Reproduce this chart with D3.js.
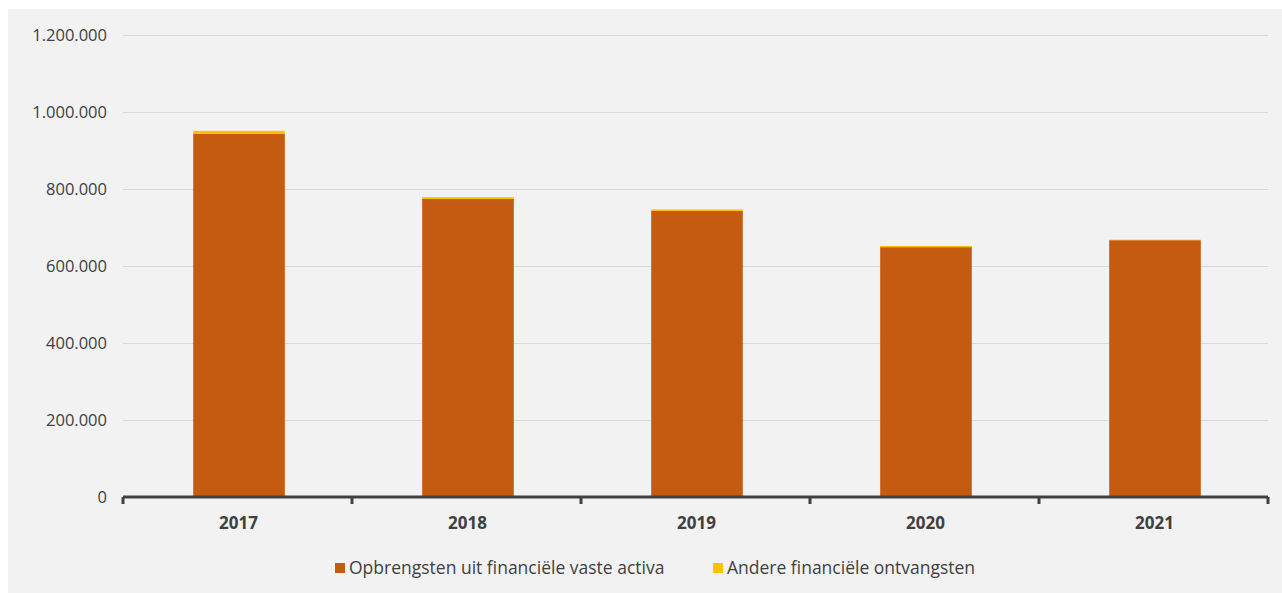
<!DOCTYPE html>
<html lang="nl">
<head>
	<meta charset="utf-8"/>
	<title>Financiële ontvangsten</title>
	<script src="https://d3js.org/d3.v7.min.js"></script>
	<style>
	  body { margin: 0; background: #fff; }
	  text { font-family: "Open Sans", "Liberation Sans", sans-serif; }
	  .grid line { stroke: #d9d9d9; stroke-width: 1px; }
	  .grid .domain { display: none; }
	  .yaxis .domain, .yaxis line { display: none; }
	</style>
</head>
<body>
<svg id="chart" width="1282" height="593"></svg>
<script>
// data
var years = ["2017", "2018", "2019", "2020", "2021"];
var seriesNames = ["Opbrengsten uit financiële vaste activa", "Andere financiële ontvangsten"];
var vasteActiva = [943000, 774000, 743000, 649000, 667000];
var andere = [8000, 5000, 4000, 3000, 1500];
var yTicks = [0, 200000, 400000, 600000, 800000, 1000000, 1200000];
var colors = ["#c55a11", "#ffc000"];

var svg = d3.select("#chart");
var margin = {top: 35, left: 123, right: 14, bottom: 96};
var width = 1282 - margin.left - margin.right,
	height = 593 - margin.top - margin.bottom;

// panel background
svg.append("rect")
	.attr("x", 8).attr("y", 9)
	.attr("width", 1282 - 8).attr("height", 593 - 9)
	.attr("fill", "#f2f2f2");

var g = svg.append("g").attr("transform", "translate(" + margin.left + "," + margin.top + ")");

var x = d3.scaleBand().domain(years).range([0, width]).paddingInner(0.6).paddingOuter(0.3);
var y = d3.scaleLinear().domain([0, 1200000]).range([height, 0]);

var fmt = function(d) { return d3.format(",")(d).replace(/,/g, "."); };

// gridlines
g.append("g")
	.attr("class", "grid")
	.call(d3.axisLeft(y).tickValues(yTicks.slice(1)).tickSize(-width).tickFormat(""));

// y labels
g.append("g")
	.attr("class", "yaxis")
	.call(d3.axisLeft(y).tickValues(yTicks).tickSize(0).tickPadding(16).tickFormat(fmt))
	.selectAll("text")
	  .attr("font-size", 16.5)
	  .attr("fill", "#404040")
	  .style("font-family", "'Open Sans', sans-serif");

// stacked bars
var data = years.map(function(yr, i) { return {year: yr, a: vasteActiva[i], b: andere[i]}; });
var stack = d3.stack().keys(["a", "b"])(data);

g.append("g")
	.attr("transform", "translate(1.5,0)")
	.selectAll("g")
	.data(stack)
	.enter().append("g")
	  .attr("fill", function(d, i) { return colors[i]; })
	.selectAll("rect")
	.data(function(d) { return d; })
	.enter().append("rect")
	  .attr("x", function(d) { return x(d.data.year); })
	  .attr("y", function(d) { return y(d[1]); })
	  .attr("height", function(d) { return y(d[0]) - y(d[1]); })
	  .attr("width", x.bandwidth());

// x axis line with ticks at band edges
var xaxis = g.append("g").attr("transform", "translate(0," + height + ")");
xaxis.append("line")
	.attr("x1", 0).attr("x2", width)
	.attr("stroke", "#404040").attr("stroke-width", 3);
var step = x.step();
xaxis.selectAll(".tk")
	.data(d3.range(years.length + 1))
	.enter().append("line")
	  .attr("class", "tk")
	  .attr("x1", function(d) { return d * step; })
	  .attr("x2", function(d) { return d * step; })
	  .attr("y1", 0).attr("y2", 7)
	  .attr("stroke", "#404040").attr("stroke-width", 3);
xaxis.selectAll(".lbl")
	.data(years)
	.enter().append("text")
	  .attr("class", "lbl")
	  .attr("x", function(d) { return x(d) + x.bandwidth() / 2 + 1; })
	  .attr("y", 32)
	  .attr("text-anchor", "middle")
	  .attr("font-size", 17)
	  .attr("font-weight", "bold")
	  .attr("fill", "#404040")
	  .text(function(d) { return d; });

// legend
var legendX = [335, 713];
var legend = svg.append("g")
	.selectAll("g")
	.data(seriesNames)
	.enter().append("g")
	  .attr("transform", function(d, i) { return "translate(" + legendX[i] + ",568)"; });
legend.append("rect")
	.attr("x", 0).attr("y", -5)
	.attr("width", 10).attr("height", 10)
	.attr("fill", function(d, i) { return colors[i]; });
legend.append("text")
	.attr("x", 14)
	.attr("dy", "0.35em")
	.attr("font-size", 17.5)
	.attr("fill", "#404040")
	.text(function(d) { return d; });
</script>
</body>
</html>
